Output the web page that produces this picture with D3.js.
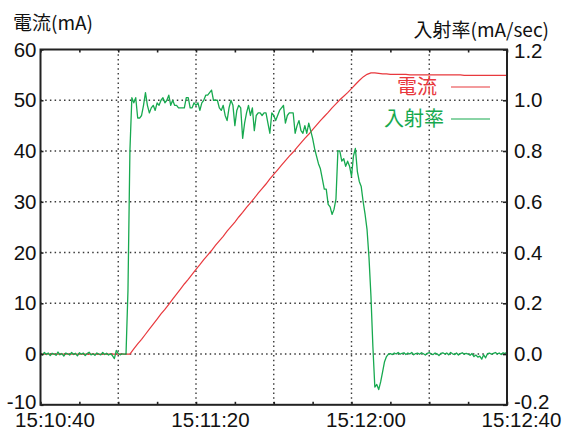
<!DOCTYPE html>
<html>
<head>
<meta charset="utf-8">
<script src="https://cdn.jsdelivr.net/npm/d3@7"></script>
<style>
  body { margin: 0; background: #fff; }
  #chart { width: 568px; height: 430px; }
</style>
</head>
<body>
<div id="chart"></div>
<script>
// current (mA), one value per second from 15:10:40
const currentVals = [
  0, 0, 0, 0, 0, 0, 0, 0, 0, 0, 0, 0, 0, 0, 0, 0, 0, 0, 0, 0, 0, 0, 0, 0,
  1.0, 2.0, 2.9, 3.9, 4.9, 5.9, 6.9, 7.9, 8.8, 9.8,
  10.8, 11.8, 12.8, 13.8, 14.7, 15.7, 16.7, 17.6, 18.6, 19.5,
  20.4, 21.4, 22.3, 23.2, 24.2, 25.1, 26.0, 27.0, 27.9, 28.9,
  29.8, 30.7, 31.7, 32.6, 33.5, 34.5, 35.4, 36.3, 37.2, 38.1,
  39.0, 39.8, 40.7, 41.6, 42.5, 43.3, 44.2, 45.1, 46.0, 46.8,
  47.6, 48.5, 49.3, 50.1, 50.8, 51.5, 52.3, 53.1, 53.9, 54.6,
  55.1, 55.4, 55.4, 55.3, 55.2, 55.2, 55.1, 55.1, 55.1, 55.1,
  55.1, 55.0, 55.0, 55.0, 55.0, 55.0, 55.0, 55.0, 55.0, 55.0,
  55.0, 55.0, 55.0, 55.0, 55.0, 54.9, 54.9, 54.9, 54.9, 54.9,
  54.9, 54.9, 54.9, 54.9, 54.9, 54.9, 54.9
];

// injection rate (mA/sec), every 0.5 s, in three stretches
const rateIdleStart = 0;
const rateIdle = [
  0.002, -0.004, 0.006, -0.002, 0.004, -0.006, 0.003, 0.000, -0.005, 0.008,
  -0.003, 0.002, -0.008, 0.004, 0.001, -0.004, 0.006, -0.002, 0.003, -0.007,
  0.005, -0.001, 0.004, -0.006, 0.002, 0.007, -0.003, 0.001, -0.005, 0.004,
  0.000, -0.003, 0.006, -0.002, 0.003, -0.004, 0.001, -0.006, -0.018, 0.014,
  0.002, -0.003, 0.001, 0.000
];
const rateRunStart = 22;
const rateRun = [
  0.00, 0.25, 0.80, 1.01, 0.99, 1.01, 0.93, 0.93, 0.94, 0.98,
  1.03, 0.98, 0.95, 0.97, 0.98, 0.96, 0.99, 0.98, 1.00, 1.01,
  0.99, 1.00, 1.02, 0.98, 1.00, 0.98, 0.98, 0.97, 0.97, 0.97,
  0.97, 1.01, 1.01, 0.97, 0.97, 0.99, 0.98, 0.99, 0.96, 0.99,
  1.00, 1.02, 1.02, 1.03, 1.04, 1.00, 1.00, 1.00, 0.97, 0.96,
  0.98, 0.94, 0.92, 0.97, 1.00, 0.98, 0.90, 0.96, 0.98, 0.97,
  0.85, 0.91, 0.95, 0.98, 0.94, 0.97, 0.88, 0.94, 0.95, 0.95,
  0.94, 0.95, 0.95, 0.91, 0.87, 0.95, 0.94, 0.92, 0.94, 0.96,
  0.97, 0.98, 0.91, 0.94, 0.95, 0.95, 0.95, 0.87, 0.90, 0.92,
  0.88, 0.87, 0.90, 0.87, 0.91, 0.88, 0.85, 0.81, 0.78, 0.75,
  0.73, 0.69, 0.65, 0.65, 0.59, 0.58, 0.55, 0.57, 0.61, 0.80,
  0.80, 0.76, 0.77, 0.74, 0.76, 0.74, 0.70, 0.78, 0.81, 0.72,
  0.68, 0.66, 0.60, 0.55, 0.49, 0.38, 0.23, 0.03, -0.13, -0.12,
  -0.14, -0.11, -0.07, -0.03, -0.01, 0.00
];
const rateAfterStart = 90;
const rateAfter = [
  0.002, -0.002, 0.004, 0.000, 0.006, -0.001, 0.003, 0.005, -0.002, 0.004,
  0.000, 0.006, -0.003, 0.002, 0.004, -0.001, 0.005, 0.001, -0.004, 0.003,
  0.006, 0.000, -0.002, 0.004, 0.001, -0.006, 0.003, 0.005, 0.000, 0.004,
  -0.003, 0.006, 0.001, -0.002, 0.004, -0.004, 0.002, 0.005, -0.001, 0.003,
  0.000, -0.005, 0.002, -0.010, -0.004, -0.012, -0.008, -0.020, -0.003, -0.015,
  0.002, 0.004, -0.001, 0.003, 0.006, 0.001, 0.004, -0.002, 0.005, 0.002,
  0.008
];

const currentTicks = [-10, 0, 10, 20, 30, 40, 50, 60];
const rateTicks = [-0.2, 0, 0.2, 0.4, 0.6, 0.8, 1.0, 1.2];
const timeLabels = ["15:10:40", "15:11:20", "15:12:00", "15:12:40"];
const minorTickSecs = [0, 10, 20, 30, 40, 50, 60, 70, 80, 90, 100, 110, 120];
const gridSecs = [20, 40, 60, 80, 100];

const T0 = new Date(2000, 0, 1, 15, 10, 40);
const at = s => new Date(T0.getTime() + s * 1000);

const RED = "#e8383d";
const GREEN = "#17a94f";

function draw() {
  const W = 568, H = 430;
  const left = 40.5, right = 507, top = 49.5, bottom = 404.8;

  const svg = d3.select("#chart").append("svg")
    .attr("width", W).attr("height", H)
    .attr("viewBox", `0 0 ${W} ${H}`);

  const x = d3.scaleTime().domain([at(0), at(120)]).range([left, right]);
  const yL = d3.scaleLinear().domain([-10, 60]).range([bottom, top]);
  const yR = d3.scaleLinear().domain([-0.2, 1.2]).range([bottom, top]);

  // dotted grid
  const grid = svg.append("g")
    .attr("stroke", "#3a3a3a")
    .attr("stroke-width", 1.4)
    .attr("stroke-dasharray", "1.5,3.2");
  grid.selectAll("line.h")
    .data(currentTicks.filter(d => d > -10 && d < 60))
    .join("line")
    .attr("x1", left).attr("x2", right)
    .attr("y1", d => yL(d)).attr("y2", d => yL(d));
  grid.selectAll("line.v")
    .data(gridSecs)
    .join("line")
    .attr("class", "v")
    .attr("y1", top).attr("y2", bottom)
    .attr("x1", d => x(at(d))).attr("x2", d => x(at(d)));

  // series
  const currentPts = currentVals.map((v, i) => [i, v]);
  const ratePts = [
    ...rateIdle.map((v, i) => [rateIdleStart + i * 0.5, v]),
    ...rateRun.map((v, i) => [rateRunStart + i * 0.5, v]),
    ...rateAfter.map((v, i) => [rateAfterStart + i * 0.5, v])
  ];

  const lineL = d3.line().x(d => x(at(d[0]))).y(d => yL(d[1]));
  const lineR = d3.line().x(d => x(at(d[0]))).y(d => yR(d[1]));

  svg.append("path")
    .datum(currentPts)
    .attr("fill", "none")
    .attr("stroke", RED)
    .attr("stroke-width", 1.2)
    .attr("d", lineL);

  svg.append("path")
    .datum(ratePts)
    .attr("fill", "none")
    .attr("stroke", GREEN)
    .attr("stroke-width", 1.3)
    .attr("stroke-linejoin", "round")
    .attr("d", lineR);

  const tickFont = "'Liberation Sans', Arial, sans-serif";

  // left axis
  const gL = svg.append("g")
    .attr("transform", `translate(${left},0)`)
    .call(d3.axisLeft(yL).tickValues(currentTicks).tickSizeInner(-3).tickSizeOuter(0).tickPadding(4)
      .tickFormat(d => String(d)));
  // right axis
  const gR = svg.append("g")
    .attr("transform", `translate(${right},0)`)
    .call(d3.axisRight(yR).tickValues(rateTicks).tickSizeInner(-4).tickSizeOuter(0).tickPadding(7)
      .tickFormat(d => d.toFixed(1)));
  // bottom axis
  const labelAt = { 0: timeLabels[0], 40: timeLabels[1], 80: timeLabels[2], 120: timeLabels[3] };
  const gB = svg.append("g")
    .attr("transform", `translate(0,${bottom})`)
    .call(d3.axisBottom(x).tickValues(minorTickSecs.map(at)).tickSizeInner(-3).tickSizeOuter(0).tickPadding(8)
      .tickFormat((d, i) => labelAt[minorTickSecs[i]] || ""));
  gB.selectAll(".tick text").attr("dx", 14);
  // top ticks
  const gT = svg.append("g")
    .attr("transform", `translate(0,${top})`)
    .call(d3.axisTop(x).tickValues(minorTickSecs.map(at)).tickSizeInner(-3).tickSizeOuter(0)
      .tickFormat(() => ""));

  [gL, gR, gB, gT].forEach(g => {
    g.select(".domain").remove();
    g.selectAll(".tick line").attr("stroke", "#222").attr("stroke-width", 1.6);
    g.selectAll("text")
      .attr("fill", "#111")
      .style("font-family", tickFont)
      .style("font-size", "20.5px");
  });
  // end labels sit a touch inward so they clear the time labels
  gL.selectAll(".tick text").filter(d => d === -10).attr("dy", "0.2em");
  gR.selectAll(".tick text").filter(d => d === -0.2).attr("dy", "0.2em");
  gR.selectAll(".tick text").filter(d => d === 1.2).attr("dy", "0.4em");

  // frame
  svg.append("rect")
    .attr("x", left).attr("y", top)
    .attr("width", right - left).attr("height", bottom - top)
    .attr("fill", "none")
    .attr("stroke", "#222")
    .attr("stroke-width", 2);

  const cjk = "'Noto Sans CJK JP', sans-serif";

  // axis titles
  svg.append("text")
    .attr("x", 13).attr("y", 30)
    .style("font-family", cjk).style("font-size", "19px")
    .attr("fill", "#111")
    .text("電流(mA)");
  svg.append("text")
    .attr("x", 549).attr("y", 37)
    .attr("text-anchor", "end")
    .style("font-family", cjk).style("font-size", "19px")
    .attr("fill", "#111")
    .text("入射率(mA/sec)");

  // legend
  const legend = [
    { name: "電流", color: RED, x: 397, y: 87 },
    { name: "入射率", color: GREEN, x: 384, y: 119 }
  ];
  const lg = svg.append("g");
  lg.selectAll("text")
    .data(legend)
    .join("text")
    .attr("x", d => d.x).attr("y", d => d.y)
    .attr("dy", "0.36em")
    .attr("fill", d => d.color)
    .style("font-family", cjk).style("font-size", "20px")
    .text(d => d.name);
  lg.selectAll("line")
    .data(legend)
    .join("line")
    .attr("x1", 451).attr("x2", 490)
    .attr("y1", d => d.y).attr("y2", d => d.y)
    .attr("stroke", d => d.color)
    .attr("stroke-width", 1.2);
}

draw();
</script>
</body>
</html>
